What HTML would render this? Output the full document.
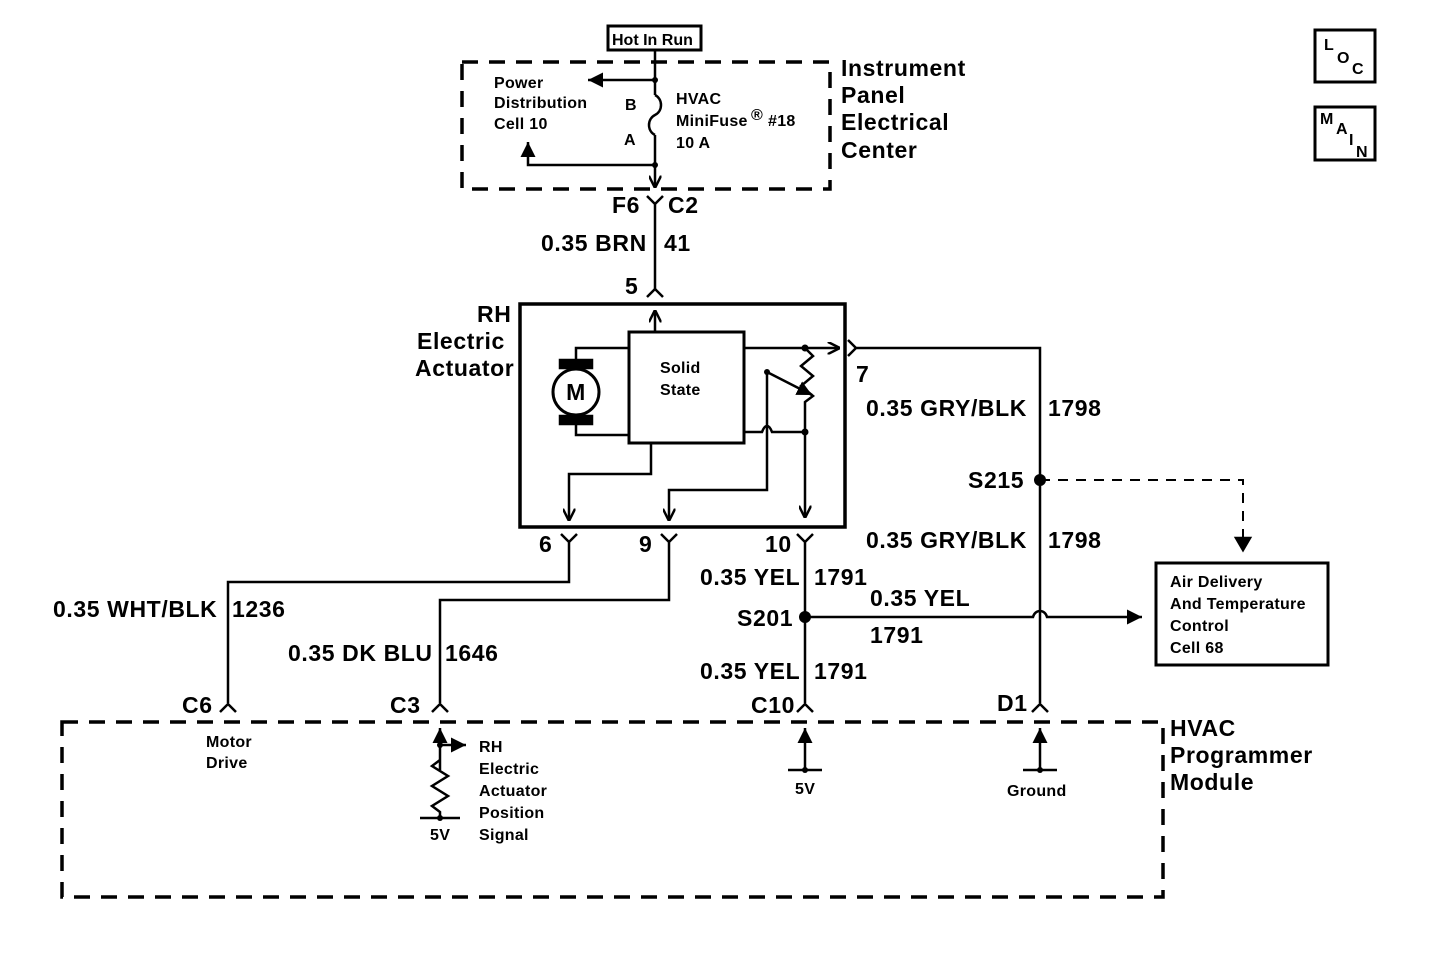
<!DOCTYPE html>
<html><head><meta charset="utf-8"><style>
html,body{margin:0;padding:0;background:#fff;}
svg{display:block}
text{font-family:"Liberation Sans",Arial,sans-serif;font-weight:bold;fill:#000}
.l{font-size:23px;letter-spacing:0.6px}
.s{font-size:16px;letter-spacing:0.3px}
</style></head><body>
<svg width="1440" height="956" viewBox="0 0 1440 956" xmlns="http://www.w3.org/2000/svg">
<defs>
<marker id="a" viewBox="0 0 10 10" refX="10" refY="5" markerWidth="6" markerHeight="6" orient="auto"><path d="M0,0L10,5L0,10z" fill="#000"/></marker>
<marker id="o" viewBox="0 0 10 10" refX="10" refY="5" markerWidth="5" markerHeight="5" orient="auto"><path d="M0,0L10,5L0,10" fill="none" stroke="#000" stroke-width="2"/></marker>
</defs>
<g stroke="#000" fill="none" stroke-width="2.5">
<rect x="608" y="26" width="93" height="24" stroke-width="3"/>
<rect x="462" y="62" width="368" height="127" stroke-dasharray="16,11" stroke-width="3.5"/>
<path d="M655,50V95"/>
<path d="M655,95c8,4 8,16 0,20c-8,4 -8,16 0,20"/>
<path d="M655,135V188" marker-end="url(#o)"/>
<path d="M655,80H588" marker-end="url(#a)"/>
<path d="M655,165H528V142" marker-end="url(#a)"/>
<path d="M647,196L655,204L663,196M655,204V290"/>
<path d="M647,297L655,289L663,297"/>
<rect x="520" y="304" width="325" height="223" stroke-width="3.5"/>
<rect x="629" y="332" width="115" height="111" stroke-width="3"/>
<path d="M655,332V310" marker-end="url(#o)"/>
<circle cx="576" cy="392" r="23" stroke-width="3"/>
<rect x="560" y="360" width="32" height="8" fill="#000"/>
<rect x="560" y="416" width="32" height="8" fill="#000"/>
<path d="M576,360V348H629M576,424V435H629"/>
<path d="M744,348H840" marker-end="url(#o)"/>
<path d="M805,348l8,8l-12,10l12,10l-12,10l12,10l-8,6V518" marker-end="url(#o)"/>
<path d="M767,372L812,395" marker-end="url(#a)"/>
<path d="M767,372V490H669V521" marker-end="url(#o)"/>
<path d="M744,432H762c3,-8 7,-8 10,0H805"/>
<path d="M651,443V474H569V521" marker-end="url(#o)"/>
<path d="M561,534L569,542L577,534M569,542V582H228V703"/>
<path d="M661,534L669,542L677,534M669,542V600H440V703"/>
<path d="M797,534L805,542L813,534M805,542V703"/>
<path d="M848,340L856,348L848,356M856,348H1040V703"/>
<path d="M1040,480H1243V545" stroke-dasharray="10,8" stroke-width="2"/>
<path d="M1236,538L1243,550L1250,538z" fill="#000"/>
<path d="M805,617H1033c2,-8 12,-8 14,0H1142" marker-end="url(#a)"/>
<rect x="1156" y="563" width="172" height="102" stroke-width="3"/>
<path d="M220,712L228,704L236,712"/>
<path d="M432,712L440,704L448,712"/>
<path d="M797,712L805,704L813,712"/>
<path d="M1032,712L1040,704L1048,712"/>
<rect x="62" y="722" width="1101" height="175" stroke-dasharray="16,11" stroke-width="3.5"/>
<path d="M440,770V728" marker-end="url(#a)"/>
<path d="M440,745H466" marker-end="url(#a)"/>
<path d="M440,760l-8,6l16,10l-16,10l16,10l-16,10l8,6V818"/>
<path d="M420,818H460"/>
<path d="M805,770V728" marker-end="url(#a)"/>
<path d="M788,770H822"/>
<path d="M1040,770V728" marker-end="url(#a)"/>
<path d="M1023,770H1057"/>
<rect x="1315" y="30" width="60" height="52" stroke-width="3"/>
<rect x="1315" y="107" width="60" height="53" stroke-width="3"/>
</g>
<g fill="#000">
<circle cx="655" cy="80" r="3"/><circle cx="655" cy="165" r="3"/>
<circle cx="805" cy="348" r="3.5"/><circle cx="805" cy="432" r="3.5"/><circle cx="767" cy="372" r="3"/>
<circle cx="1040" cy="480" r="6"/><circle cx="805" cy="617" r="6"/>
<circle cx="440" cy="745" r="3"/><circle cx="440" cy="818" r="3"/>
<circle cx="805" cy="770" r="3"/><circle cx="1040" cy="770" r="3"/>
</g>
<text x="612" y="45" class="s" style="letter-spacing:0">Hot In Run</text>
<text x="494" y="88" class="s">Power</text>
<text x="494" y="108" class="s">Distribution</text>
<text x="494" y="129" class="s">Cell 10</text>
<text x="625" y="110" class="s">B</text>
<text x="624" y="145" class="s">A</text>
<text x="676" y="104" class="s">HVAC</text>
<text x="676" y="126" class="s">MiniFuse</text>
<text x="751" y="120" class="s">®</text>
<text x="768" y="126" class="s">#18</text>
<text x="676" y="148" class="s">10 A</text>
<text x="841" y="76" class="l">Instrument</text>
<text x="841" y="103" class="l">Panel</text>
<text x="841" y="130" class="l">Electrical</text>
<text x="841" y="158" class="l">Center</text>
<text x="612" y="213" class="l">F6</text>
<text x="668" y="213" class="l">C2</text>
<text x="541" y="251" class="l">0.35 BRN</text>
<text x="664" y="251" class="l">41</text>
<text x="625" y="294" class="l">5</text>
<text x="477" y="322" class="l">RH</text>
<text x="417" y="349" class="l">Electric</text>
<text x="415" y="376" class="l">Actuator</text>
<text x="576" y="400" class="l" text-anchor="middle">M</text>
<text x="660" y="373" class="s">Solid</text>
<text x="660" y="395" class="s">State</text>
<text x="856" y="382" class="l">7</text>
<text x="866" y="416" class="l">0.35 GRY/BLK</text>
<text x="1048" y="416" class="l">1798</text>
<text x="968" y="488" class="l">S215</text>
<text x="866" y="548" class="l">0.35 GRY/BLK</text>
<text x="1048" y="548" class="l">1798</text>
<text x="539" y="552" class="l">6</text>
<text x="639" y="552" class="l">9</text>
<text x="765" y="552" class="l">10</text>
<text x="700" y="585" class="l">0.35 YEL</text>
<text x="814" y="585" class="l">1791</text>
<text x="737" y="626" class="l">S201</text>
<text x="870" y="606" class="l">0.35 YEL</text>
<text x="870" y="643" class="l">1791</text>
<text x="700" y="679" class="l">0.35 YEL</text>
<text x="814" y="679" class="l">1791</text>
<text x="53" y="617" class="l">0.35 WHT/BLK</text>
<text x="232" y="617" class="l">1236</text>
<text x="288" y="661" class="l">0.35 DK BLU</text>
<text x="445" y="661" class="l">1646</text>
<text x="1170" y="587" class="s">Air Delivery</text>
<text x="1170" y="609" class="s">And Temperature</text>
<text x="1170" y="631" class="s">Control</text>
<text x="1170" y="653" class="s">Cell 68</text>
<text x="182" y="713" class="l">C6</text>
<text x="390" y="713" class="l">C3</text>
<text x="751" y="713" class="l">C10</text>
<text x="997" y="711" class="l">D1</text>
<text x="1170" y="736" class="l">HVAC</text>
<text x="1170" y="763" class="l">Programmer</text>
<text x="1170" y="790" class="l">Module</text>
<text x="206" y="747" class="s">Motor</text>
<text x="206" y="768" class="s">Drive</text>
<text x="479" y="752" class="s">RH</text>
<text x="479" y="774" class="s">Electric</text>
<text x="479" y="796" class="s">Actuator</text>
<text x="479" y="818" class="s">Position</text>
<text x="479" y="840" class="s">Signal</text>
<text x="430" y="840" class="s">5V</text>
<text x="795" y="794" class="s">5V</text>
<text x="1007" y="796" class="s">Ground</text>
<text x="1324" y="50" class="s">L</text><text x="1337" y="63" class="s">O</text><text x="1352" y="74" class="s">C</text>
<text x="1320" y="124" class="s">M</text><text x="1336" y="134" class="s">A</text><text x="1349" y="145" class="s">I</text><text x="1356" y="157" class="s">N</text>
</svg>
</body></html>
